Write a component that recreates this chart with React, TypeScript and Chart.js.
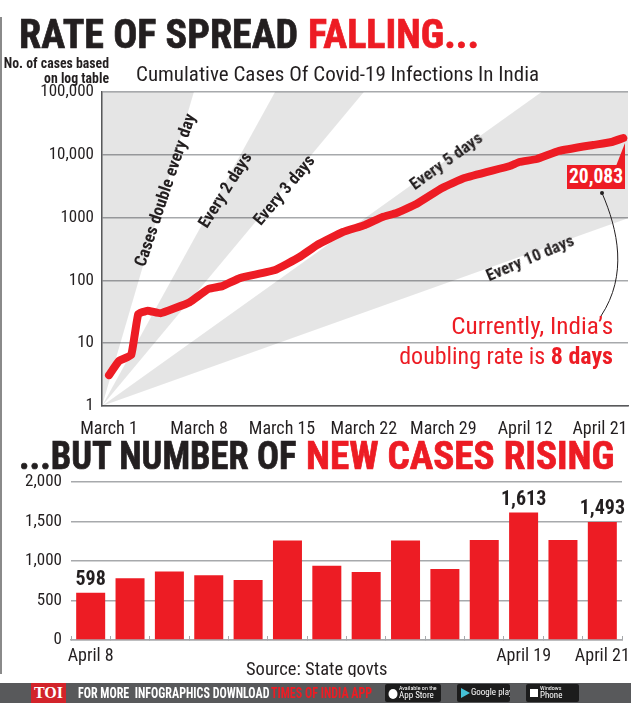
import React, { useEffect, useRef } from "react";
import { Chart, registerables } from "chart.js";

Chart.register(...registerables);

const NARROW = '"Liberation Sans Narrow", "Roboto Condensed", Roboto, sans-serif';
const RED = "#ed1c24";
const INK = "#231f20";

// Cumulative cases (x = position on the compressed date axis)
const caseX = [0, 0.85, 1.9, 2.5, 3.3, 4.4, 5.6, 6.9, 8.5, 9.7, 11.2, 14.2, 16.3, 17.8, 20, 21.9, 23.4, 24.6, 26.3, 28.5, 30.4, 34.3, 35.1, 36.6, 38.5, 41.4, 43, 44];
const caseY = [3.1, 5.2, 6.5, 29, 33, 30, 36, 45, 73, 81, 109, 146, 236, 366, 590, 762, 1023, 1184, 1646, 2961, 4272, 6630, 7680, 8570, 11500, 14300, 16000, 18500];
const dateTickPositions = [0, 7.7, 14.8, 21.8, 28.6, 35.6, 42];
const dateTickLabels = ["March 1", "March 8", "March 15", "March 22", "March 29", "April 12", "April 21"];
const logTicks = [1, 10, 100, 1000, 10000, 100000];
const logTickLabels = ["1", "10", "100", "1000", "10,000", "100,000"];

// Doubling-rate wedges, all rising from the origin of the log plot
const xMin = -0.6;
const xMax = 44.4;
const yMin = 1;
const yMax = 100000;
const wedge1X = [xMin, xMin, 7.26];
const wedge1Y = [yMin, yMax, yMax];
const wedge2X = [xMin, 14.2, 21.8];
const wedge2Y = [yMin, yMax, yMax];
const wedge3X = [xMin, 37, xMax, xMax];
const wedge3Y = [yMin, yMax, yMax, 980];

// New cases per day
const dayLabels = ["April 8", "April 9", "April 10", "April 11", "April 12", "April 13", "April 14", "April 15", "April 16", "April 17", "April 18", "April 19", "April 20", "April 21"];
const shownDays = ["April 8", "April 19", "April 21"];
const newCases = [598, 783, 867, 820, 761, 1260, 939, 862, 1260, 900, 1265, 1613, 1265, 1493];
const labelledDays = [0, 11, 13];
const barTicks = [0, 500, 1000, 1500, 2000];

const toPoints = (xs: number[], ys: number[]) => xs.map((x, i) => ({ x, y: ys[i] }));
const wedge = (xs: number[], ys: number[]) => ({
  type: "line" as const,
  data: toPoints(xs, ys),
  fill: "shape",
  backgroundColor: "rgba(0,0,0,0.1)",
  borderWidth: 0,
  pointRadius: 0,
  tension: 0,
  order: 2,
});

const fixBox = (prop: "width" | "height", size: number) => (s: any) => {
  s[prop] = size;
  s.paddingLeft = 0;
  s.paddingRight = 0;
  s.paddingTop = 0;
  s.paddingBottom = 0;
};

function T(props: { x: number; y: number; size: number; color?: string; bold?: boolean; right?: boolean; sx?: number; stroke?: number; children: React.ReactNode }) {
  const { x, y, size, color = INK, bold, right, sx = 1, stroke = 0, children } = props;
  return (
    <div
      style={{
        position: "absolute",
        top: y,
        ...(right ? { right: 631 - x } : { left: x }),
        fontFamily: NARROW,
        fontSize: size,
        fontWeight: bold ? 700 : 400,
        color,
        lineHeight: 1,
        whiteSpace: "pre",
        transform: `scaleX(${sx})`,
        transformOrigin: right ? "right top" : "left top",
        WebkitTextStroke: stroke ? `${stroke}px ${color}` : undefined,
      }}
    >
      {children}
    </div>
  );
}

function Rot(props: { cx: number; cy: number; deg: number; children: React.ReactNode }) {
  return (
    <div
      style={{
        position: "absolute",
        left: props.cx,
        top: props.cy,
        fontFamily: NARROW,
        fontSize: 17,
        fontWeight: 700,
        color: INK,
        lineHeight: 1,
        whiteSpace: "nowrap",
        transform: `translate(-50%,-50%) rotate(${props.deg}deg)`,
      }}
    >
      {props.children}
    </div>
  );
}

export default function App() {
  const lineRef = useRef<HTMLCanvasElement>(null);
  const barRef = useRef<HTMLCanvasElement>(null);

  useEffect(() => {
    const line = new Chart(lineRef.current!, {
      type: "line",
      data: {
        datasets: [
          wedge(wedge1X, wedge1Y),
          wedge(wedge2X, wedge2Y),
          wedge(wedge3X, wedge3Y),
          {
            data: toPoints(caseX, caseY),
            borderColor: RED,
            borderWidth: 8,
            borderCapStyle: "round",
            borderJoinStyle: "round",
            pointRadius: 0,
            tension: 0.1,
            fill: false,
            order: 1,
          },
        ],
      } as any,
      options: {
        animation: false,
        responsive: false,
        layout: { padding: { top: 92, right: 3, left: 0, bottom: 0 } },
        plugins: { legend: { display: false }, tooltip: { enabled: false } },
        scales: {
          x: {
            type: "linear",
            min: xMin,
            max: xMax,
            afterFit: fixBox("height", 34),
            afterBuildTicks: (s: any) => { s.ticks = dateTickPositions.map((value) => ({ value })); },
            grid: { display: false },
            border: { color: "#58595b", width: 1.5 },
            ticks: {
              maxRotation: 0,
              autoSkip: false,
              padding: 5,
              color: INK,
              font: { family: NARROW, size: 18 },
              callback: (v: any) => dateTickLabels[dateTickPositions.indexOf(Number(v))] ?? "",
            },
          },
          y: {
            type: "logarithmic",
            min: yMin,
            max: yMax,
            afterFit: fixBox("width", 102),
            afterBuildTicks: (s: any) => { s.ticks = logTicks.map((value) => ({ value })); },
            grid: { color: "#a7a9ac", lineWidth: 1.5, drawTicks: false },
            border: { color: "#58595b", width: 1.5 },
            ticks: {
              padding: 8,
              color: INK,
              autoSkip: false,
              font: { family: NARROW, size: 17 },
              callback: (v: any) => logTickLabels[logTicks.indexOf(Number(v))] ?? "",
            },
          },
        },
      },
    });

    const valueLabels = {
      id: "valueLabels",
      afterDatasetsDraw(chart: any) {
        const { ctx, scales } = chart;
        ctx.save();
        ctx.font = `700 20px ${NARROW}`;
        ctx.fillStyle = INK;
        ctx.textAlign = "center";
        ctx.textBaseline = "bottom";
        labelledDays.forEach((i) => {
          ctx.fillText(newCases[i].toLocaleString("en-US"), scales.x.getPixelForValue(i), scales.y.getPixelForValue(newCases[i]) - 3);
        });
        ctx.restore();
      },
    };

    const bars = new Chart(barRef.current!, {
      type: "bar",
      data: {
        labels: dayLabels,
        datasets: [{ data: newCases, backgroundColor: RED, barPercentage: 0.737, categoryPercentage: 1 }],
      },
      plugins: [valueLabels],
      options: {
        animation: false,
        responsive: false,
        layout: { padding: { top: 12, right: 9, left: 0, bottom: 0 } },
        plugins: { legend: { display: false }, tooltip: { enabled: false } },
        scales: {
          x: {
            type: "category",
            afterFit: fixBox("height", 35),
            grid: { offset: true, drawOnChartArea: false, color: "#a7a9ac", tickLength: -4 },
            border: { color: "#a7a9ac", width: 1.5 },
            ticks: {
              maxRotation: 0,
              autoSkip: false,
              padding: 10,
              color: INK,
              font: { family: NARROW, size: 18 },
              callback: (_v: any, i: number) => (shownDays.includes(dayLabels[i]) ? dayLabels[i] : ""),
            },
          },
          y: {
            min: 0,
            max: 2000,
            afterFit: fixBox("width", 71),
            afterBuildTicks: (s: any) => { s.ticks = barTicks.map((value) => ({ value })); },
            grid: { color: "#a7a9ac", lineWidth: 1.5, drawTicks: false },
            border: { display: false },
            ticks: {
              padding: 9,
              color: INK,
              font: { family: NARROW, size: 17 },
              callback: (v: any) => Number(v).toLocaleString("en-US"),
            },
          },
        },
      },
    });

    return () => {
      line.destroy();
      bars.destroy();
    };
  }, []);

  const badge = (x: number, w: number, a: string, b: string, icon: React.ReactNode) => (
    <div style={{ position: "absolute", left: x, top: 684, width: w, height: 18, background: "#1c1c1c", borderRadius: 2, color: "#fff", fontFamily: NARROW, overflow: "hidden" }}>
      <svg width={14} height={18} style={{ position: "absolute", left: 1, top: 0 }}>{icon}</svg>
      {a ? <div style={{ position: "absolute", left: 14, top: 1, fontSize: 6, lineHeight: 1, whiteSpace: "nowrap" }}>{a}</div> : null}
      <div style={{ position: "absolute", left: 14, top: a ? 7 : 4, fontSize: 9, lineHeight: 1, whiteSpace: "nowrap" }}>{b}</div>
    </div>
  );

  return (
    <div style={{ position: "fixed", left: 0, top: 0, width: 631, height: 703, background: "#fff", overflow: "hidden" }}>
      <div style={{ position: "absolute", left: 0, top: 17, width: 1.5, height: 657, background: "#8a8a8a" }} />

      <canvas ref={lineRef} width={631} height={440} style={{ position: "absolute", left: 0, top: 0, width: 631, height: 440 }} />
      <canvas ref={barRef} width={631} height={205} style={{ position: "absolute", left: 0, top: 470, width: 631, height: 205 }} />

      <T x={19} y={15} size={40} bold stroke={0.7} sx={1.0}>RATE OF SPREAD</T>
      <T x={308} y={15} size={40} bold stroke={0.7} color={RED}>FALLING...</T>
      <T x={109} y={57} size={13.8} bold right>No. of cases based</T>
      <T x={109} y={72} size={13.8} bold right>on log table</T>
      <T x={136} y={64} size={21}>Cumulative Cases Of Covid-19 Infections In India</T>

      <Rot cx={165} cy={190} deg={-71.5}>Cases double every day</Rot>
      <Rot cx={225} cy={190} deg={-58}>Every 2 days</Rot>
      <Rot cx={284} cy={190} deg={-50}>Every 3 days</Rot>
      <Rot cx={446} cy={161} deg={-36}>Every 5 days</Rot>
      <Rot cx={530} cy={258} deg={-23}>Every 10 days</Rot>

      <div style={{ position: "absolute", left: 567, top: 165, width: 58, height: 24, background: RED, color: "#fff", fontFamily: NARROW, fontWeight: 700, fontSize: 19.5, lineHeight: "24px", textAlign: "center" }}>20,083</div>
      <svg width={631} height={703} style={{ position: "absolute", left: 0, top: 0, pointerEvents: "none" }}>
        <polygon points="616,166 625,143 625,166" fill={RED} />
        <circle cx={602} cy={193} r={2} fill={INK} />
        <path d="M602 193 C 618 230, 628 275, 601 316" fill="none" stroke={INK} strokeWidth={1} />
      </svg>
      <T x={613} y={314} size={24} color={RED} right sx={1.05}>Currently, India’s</T>
      <T x={613} y={344} size={24} color={RED} right>doubling rate is <b style={{ color: RED }}>8 days</b></T>

      <T x={19} y={437} size={38} bold stroke={0.7} sx={0.96}>...BUT NUMBER OF</T>
      <T x={306} y={437} size={38} bold stroke={0.7} sx={1.03} color={RED}>NEW CASES RISING</T>

      <div style={{ position: "absolute", left: 0, top: 656, width: 631, height: 21, overflow: "hidden" }}>
        <div style={{ position: "absolute", left: 246, top: 4, fontFamily: NARROW, fontSize: 18.5, color: INK, lineHeight: 1, whiteSpace: "nowrap" }}>Source: State govts</div>
      </div>

      <div style={{ position: "absolute", left: 0, top: 683, width: 631, height: 20, background: "#58595b" }} />
      <div style={{ position: "absolute", left: 31, top: 683, width: 35, height: 20, background: "#d2232a", color: "#fff", fontFamily: '"Liberation Serif", serif', fontWeight: 700, fontSize: 16, lineHeight: "20px", textAlign: "center" }}>TOI</div>
      <T x={78} y={686} size={15} bold color="#fff" sx={0.8}>FOR MORE  INFOGRAPHICS DOWNLOAD</T>
      <T x={271} y={686} size={15} bold color={RED} sx={0.8}>TIMES OF INDIA APP</T>
      {badge(385, 56, "Available on the", "App Store", <ellipse cx={7} cy={10} rx={4.5} ry={5} fill="#fff" />)}
      {badge(457, 53, "", "Google play", <polygon points="3,4 12,9 3,14" fill="#45c1d6" />)}
      {badge(526, 53, "Windows", "Phone", <rect x={3} y={5} width={8} height={8} fill="#fff" />)}
    </div>
  );
}
